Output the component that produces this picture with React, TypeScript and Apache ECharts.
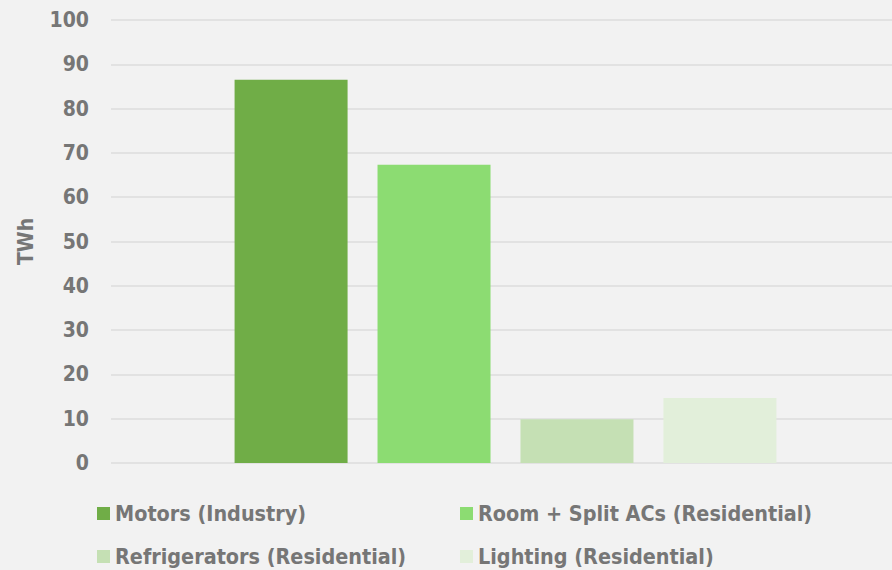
import React, { useEffect, useRef } from "react";
import * as echarts from "echarts";

const seriesNames = [
  "Motors (Industry)",
  "Room + Split ACs (Residential)",
  "Refrigerators (Residential)",
  "Lighting (Residential)",
];
const seriesValues = [86.5, 67.3, 9.9, 14.7];
const seriesColors = ["#70ad47", "#8cdc72", "#c5e0b4", "#e2efda"];
const categories = [""];
const yTicks = { min: 0, max: 100, interval: 10 };
const yAxisName = "TWh";

const FONT = "'DejaVu Sans Condensed', 'DejaVu Sans', sans-serif";
const TEXT_COLOR = "#767676";

export default function App() {
  const ref = useRef<HTMLDivElement>(null);
  useEffect(() => {
    if (!ref.current) return;
    const chart = echarts.init(ref.current, null, { renderer: "svg" });
    const legendPos = [
      { left: 97, top: 503 },
      { left: 460, top: 503 },
      { left: 97, top: 546 },
      { left: 460, top: 546 },
    ];
    const labelStyle = {
      fontFamily: FONT,
      fontWeight: "bold",
      fontSize: 21,
      color: TEXT_COLOR,
    };
    chart.setOption({
      animation: false,
      backgroundColor: "#f2f2f2",
      textStyle: { fontFamily: FONT },
      grid: [
        { left: 111, top: 20, right: 0, height: 443, containLabel: false },
        { left: 119, top: 20, right: 0, height: 443, containLabel: false },
      ],
      legend: seriesNames.map((n, i) => ({
        data: [n],
        left: legendPos[i].left,
        top: legendPos[i].top,
        itemWidth: 13,
        itemHeight: 13,
        itemGap: 0,
        icon: "rect",
        padding: 0,
        textStyle: {
          fontFamily: FONT,
          fontWeight: "bold",
          fontSize: 21.4,
          color: TEXT_COLOR,
          padding: [0, 0, 0, 0],
        },
      })),
      xAxis: [
        {
          type: "category",
          gridIndex: 0,
          data: categories,
          axisLine: { show: false },
          axisTick: { show: false },
          axisLabel: { show: false },
        },
        {
          type: "category",
          gridIndex: 1,
          data: categories,
          axisLine: { show: false },
          axisTick: { show: false },
          axisLabel: { show: false },
        },
      ],
      yAxis: [
        {
          type: "value",
          gridIndex: 0,
          min: yTicks.min,
          max: yTicks.max,
          interval: yTicks.interval,
          name: yAxisName,
          nameLocation: "middle",
          nameGap: 75,
          nameTextStyle: labelStyle,
          axisLine: { show: false },
          axisTick: { show: false },
          axisLabel: { margin: 22, ...labelStyle },
          splitLine: { lineStyle: { color: "#dcdcdc", width: 1.5 } },
        },
        {
          type: "value",
          gridIndex: 1,
          min: yTicks.min,
          max: yTicks.max,
          interval: yTicks.interval,
          show: false,
          splitLine: { show: false },
        },
      ],
      series: seriesNames.map((n, i) => ({
        type: "bar",
        name: n,
        xAxisIndex: 1,
        yAxisIndex: 1,
        data: [seriesValues[i]],
        barWidth: 113,
        barGap: "26.5%",
        itemStyle: { color: seriesColors[i] },
      })),
    });
    return () => chart.dispose();
  }, []);
  return (
    <div
      ref={ref}
      style={{ position: "fixed", left: 0, top: 0, width: 892, height: 570 }}
    />
  );
}
